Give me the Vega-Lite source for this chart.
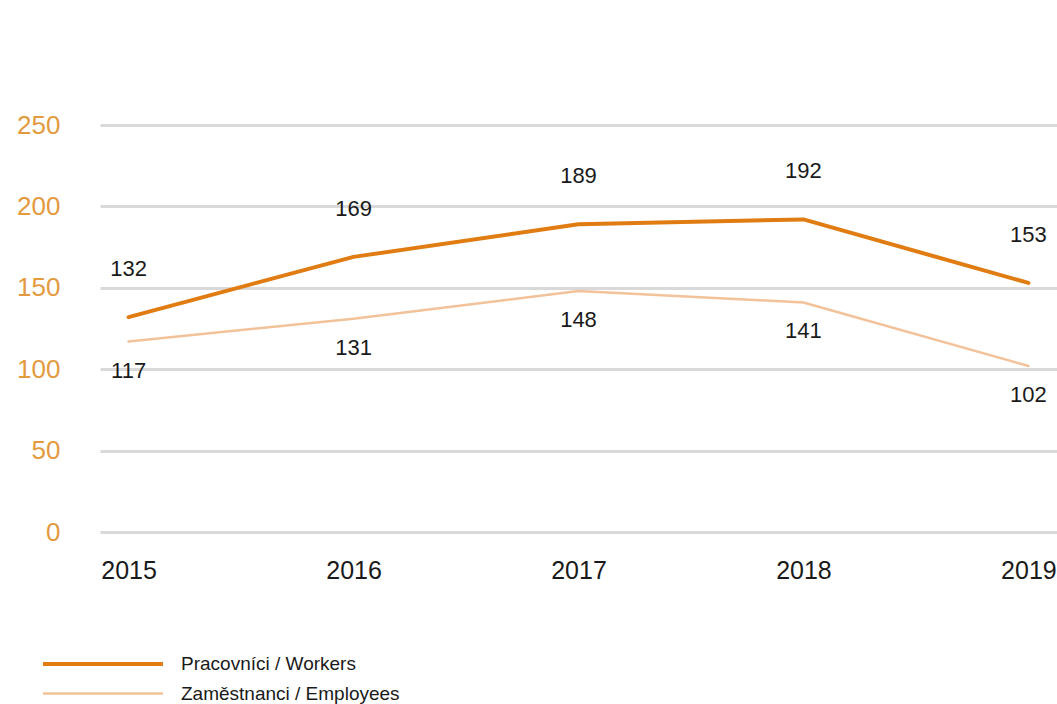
{
  "$schema": "https://vega.github.io/schema/vega-lite/v6.json",
  "width": 957,
  "height": 407,
  "autosize": {"type": "none"},
  "padding": {"left": 100, "top": 125, "right": 0, "bottom": 172},
  "background": "white",
  "config": {
    "view": {"stroke": null},
    "font": "Liberation Sans"
  },
  "data": {
    "values": [
      {"year": "2015", "series": "Pracovníci / Workers", "value": 132},
      {"year": "2016", "series": "Pracovníci / Workers", "value": 169},
      {"year": "2017", "series": "Pracovníci / Workers", "value": 189},
      {"year": "2018", "series": "Pracovníci / Workers", "value": 192},
      {"year": "2019", "series": "Pracovníci / Workers", "value": 153},
      {"year": "2015", "series": "Zaměstnanci / Employees", "value": 117},
      {"year": "2016", "series": "Zaměstnanci / Employees", "value": 131},
      {"year": "2017", "series": "Zaměstnanci / Employees", "value": 148},
      {"year": "2018", "series": "Zaměstnanci / Employees", "value": 141},
      {"year": "2019", "series": "Zaměstnanci / Employees", "value": 102}
    ]
  },
  "encoding": {
    "x": {
      "field": "year", "type": "ordinal",
      "scale": {"type": "point", "padding": 0.127},
      "axis": {
        "title": null, "labelAngle": 0, "domain": false, "ticks": false,
        "labelPadding": 26, "labelFontSize": 25, "labelColor": "#1a1a1a",
        "labelFont": "Liberation Sans", "labelFontWeight": "normal"
      }
    },
    "y": {
      "field": "value", "type": "quantitative",
      "scale": {"domain": [0, 250], "nice": false},
      "axis": {
        "title": null, "values": [0, 50, 100, 150, 200, 250],
        "domain": false, "ticks": false, "labelPadding": 40,
        "labelFontSize": 26, "labelColor": "#e39a3e",
        "labelFont": "Liberation Sans",
        "gridColor": "#d9d9d9", "gridWidth": 3
      }
    }
  },
  "layer": [
    {
      "mark": {"type": "line", "strokeCap": "round", "strokeJoin": "round"},
      "encoding": {
        "color": {
          "field": "series", "type": "nominal",
          "scale": {
            "domain": ["Pracovníci / Workers", "Zaměstnanci / Employees"],
            "range": ["#e07c12", "#f2c29a"]
          },
          "legend": {
            "title": null, "orient": "none", "legendX": -9, "legendY": 527,
            "padding": 0,
            "direction": "vertical", "symbolType": "M-6,0H6",
            "symbolSize": 400, "symbolStrokeWidth": 4,
            "labelFontSize": 19, "labelColor": "#1a1a1a", "labelLimit": 500,
            "labelFont": "Liberation Sans", "labelOffset": 66,
            "rowPadding": 8
          }
        },
        "strokeWidth": {
          "field": "series", "type": "nominal",
          "scale": {
            "domain": ["Pracovníci / Workers", "Zaměstnanci / Employees"],
            "range": [4, 2.5]
          },
          "legend": null
        }
      }
    },
    {
      "transform": [{"filter": "datum.series === 'Pracovníci / Workers'"}],
      "mark": {"type": "text", "dy": -48, "fontSize": 22, "color": "#1a1a1a", "font": "Liberation Sans"},
      "encoding": {"text": {"field": "value", "type": "quantitative"}}
    },
    {
      "transform": [{"filter": "datum.series === 'Zaměstnanci / Employees'"}],
      "mark": {"type": "text", "dy": 29, "fontSize": 22, "color": "#1a1a1a", "font": "Liberation Sans"},
      "encoding": {"text": {"field": "value", "type": "quantitative"}}
    }
  ]
}
